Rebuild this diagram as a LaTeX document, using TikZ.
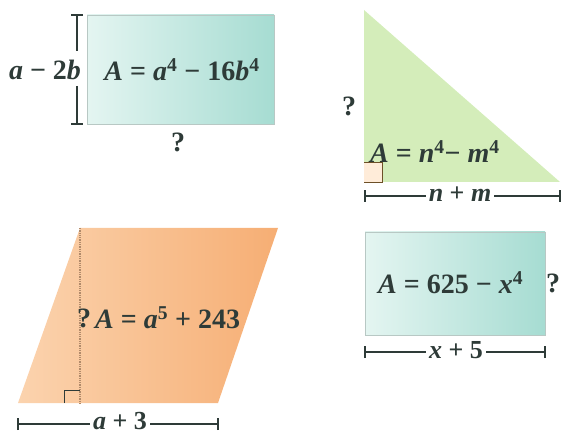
\documentclass[tikz,border=0pt]{standalone}
\usepackage{fontspec}
\setmainfont{Liberation Serif}
\definecolor{tealL}{HTML}{E4F5F1}
\definecolor{tealR}{HTML}{A6DCD2}
\definecolor{greenF}{HTML}{D4EDBA}
\definecolor{orangeL}{HTML}{FBD3AE}
\definecolor{orangeR}{HTML}{F6AE74}
\definecolor{txt}{HTML}{2E3B38}
\definecolor{edge}{HTML}{B8C8C4}
\definecolor{dotc}{HTML}{B08A6A}
\newcommand\vv[1]{\textbf{\textit{#1}}}
\newcommand\sps[1]{\textsuperscript{\textbf{#1}}}
\tikzset{
  lbl/.style={text=txt, inner sep=1pt, font=\fontsize{28}{32}\selectfont\bfseries},
  dimlbl/.style={text=txt, inner xsep=3pt, inner ysep=0pt, font=\fontsize{26}{30}\selectfont\bfseries},
  dim/.style={draw=txt, line width=1.4pt},
  tick/.style={draw=txt, line width=1.4pt},
}
\begin{document}
\begin{tikzpicture}[x=1pt,y=-1pt]
\useasboundingbox (0,0) rectangle (561,435);
% rectangle 1
\shade[left color=tealL, right color=tealR, draw=edge, line width=0.6pt] (87,15) rectangle (274,124);
\node[lbl] (r1area) at (182,70) {\vv{A} = \vv{a}\sps{4} − 16\vv{b}\sps{4}};
\node[lbl] (r1h) at (45,70) {\vv{a} − 2\vv{b}};
\node[lbl] (r1w) at (178,142) {?};
\coordinate (b1t) at (77,15);
\coordinate (b1b) at (77,124);
\coordinate (b1m1) at (77,51);
\coordinate (b1m2) at (77,86);
\draw[dim] (b1t) -- (b1m1);
\draw[dim] (b1m2) -- (b1b);
\draw[tick] ([xshift=-6]b1t) -- ([xshift=6]b1t);
\draw[tick] ([xshift=-6]b1b) -- ([xshift=6]b1b);
% triangle
\fill[greenF] (364,10) -- (364,182) -- (560,182) -- cycle;
\filldraw[fill=orange!15, draw=txt!70!orange, line width=0.9pt] (364,162) -- (382,162) -- (382,182) -- (364,182);
\node[lbl, anchor=west] (tarea) at (369,152) {\vv{A} = \vv{n}\sps{4}− \vv{m}\sps{4}};
\node[lbl] (th) at (349,106) {?};
\node[dimlbl] (tw) at (460,194) {\vv{n} + \vv{m}};
\coordinate (t1) at (365,196);
\coordinate (t2) at (560,196);
\draw[dim] (t1) -- (t1 -| tw.west);
\draw[dim] (t2 -| tw.east) -- (t2);
\draw[tick] ([yshift=-6]t1) -- ([yshift=6]t1);
\draw[tick] ([yshift=-6]t2) -- ([yshift=6]t2);
% parallelogram
\shade[left color=orangeL, right color=orangeR] (18,403) -- (218,403) -- (278,228) -- (80,228) -- cycle;
\draw[draw=dotc, densely dotted, line width=1.3pt] (80,228) -- (80,403);
\draw[draw=txt, line width=0.9pt] (64,403) -- (64,390) -- (80,390);
\node[lbl, anchor=west] (parea) at (94,318) {\vv{A} = \vv{a}\sps{5} + 243};
\node[lbl] (ph) at (84,318) {?};
\node[dimlbl] (pw) at (120,421) {\vv{a} + 3};
\coordinate (p1) at (18,424);
\coordinate (p2) at (218,424);
\draw[dim] (p1) -- (p1 -| pw.west);
\draw[dim] (p2 -| pw.east) -- (p2);
\draw[tick] ([yshift=-6]p1) -- ([yshift=6]p1);
\draw[tick] ([yshift=-6]p2) -- ([yshift=6]p2);
% rectangle 4
\shade[left color=tealL, right color=tealR, draw=edge, line width=0.6pt] (365,232) rectangle (545,335);
\node[lbl, anchor=west] (r4area) at (377,283) {\vv{A} = 625 − \vv{x}\sps{4}};
\node[lbl] (r4h) at (553,283) {?};
\node[dimlbl] (r4w) at (456,350) {\vv{x} + 5};
\coordinate (q1) at (365,352);
\coordinate (q2) at (545,352);
\draw[dim] (q1) -- (q1 -| r4w.west);
\draw[dim] (q2 -| r4w.east) -- (q2);
\draw[tick] ([yshift=-6]q1) -- ([yshift=6]q1);
\draw[tick] ([yshift=-6]q2) -- ([yshift=6]q2);
\end{tikzpicture}
\end{document}
